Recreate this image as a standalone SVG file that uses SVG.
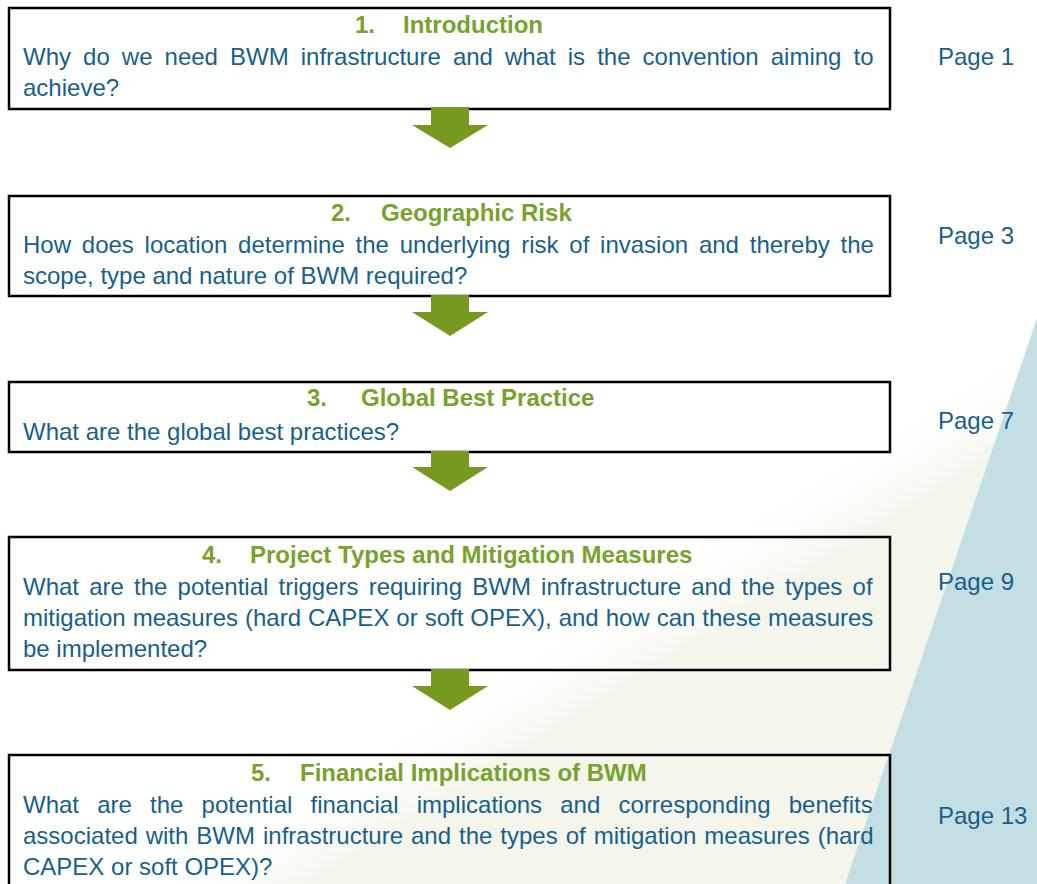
<svg xmlns="http://www.w3.org/2000/svg" width="1037" height="884" viewBox="0 0 1037 884">
  <defs>
    <linearGradient id="wash" gradientUnits="userSpaceOnUse" x1="600" y1="592" x2="650" y2="672">
      <stop offset="0" stop-color="#ffffff" stop-opacity="0"/>
      <stop offset="1" stop-color="#f4f6ec"/>
    </linearGradient>
    <style>
      .box { fill: none; stroke: #000000; stroke-width: 2.5; }
      .title { font-family: "Liberation Sans", Arial, sans-serif; font-size: 24px; font-weight: bold; fill: #77a22b; }
      .body { font-family: "Liberation Sans", Arial, sans-serif; font-size: 24px; fill: #185f8c; }
      .page { font-family: "Liberation Sans", Arial, sans-serif; font-size: 24px; fill: #185f8c; }
      .arrow { fill: #78991f; stroke: none; }
    </style>
  </defs>

  <rect x="0" y="0" width="1037" height="884" fill="#ffffff"/>
  <g id="background">
    <polygon points="1037,318 1037,884 128,884" fill="url(#wash)"/>
    <polygon points="1037,318 1037,884 845,884" fill="#c3dfe3"/>
  </g>

  <g id="node1">
    <rect class="box" x="9" y="8" width="881" height="101"/>
    <text class="title" y="33"><tspan x="355">1.</tspan><tspan x="403">Introduction</tspan></text>
    <text class="body" x="23" y="65" word-spacing="5.4">Why do we need BWM infrastructure and what is the convention aiming to</text>
    <text class="body" x="23" y="96">achieve?</text>
    <text class="page" x="938" y="65">Page 1</text>
  </g>

  <g id="node2">
    <rect class="box" x="9" y="196" width="881" height="100"/>
    <text class="title" y="221"><tspan x="331">2.</tspan><tspan x="381">Geographic Risk</tspan></text>
    <text class="body" x="23" y="253" word-spacing="4.1">How does location determine the underlying risk of invasion and thereby the</text>
    <text class="body" x="23" y="284">scope, type and nature of BWM required?</text>
    <text class="page" x="938" y="244">Page 3</text>
  </g>

  <g id="node3">
    <rect class="box" x="9" y="382" width="881" height="70"/>
    <text class="title" y="406"><tspan x="307">3.</tspan><tspan x="361">Global Best Practice</tspan></text>
    <text class="body" x="23" y="440">What are the global best practices?</text>
    <text class="page" x="938" y="429">Page 7</text>
  </g>

  <g id="node4">
    <rect class="box" x="9" y="537" width="881" height="133"/>
    <text class="title" y="563"><tspan x="202">4.</tspan><tspan x="250">Project Types and Mitigation Measures</tspan></text>
    <text class="body" x="23" y="595" word-spacing="3.5">What are the potential triggers requiring BWM infrastructure and the types of</text>
    <text class="body" x="23" y="626" word-spacing="0.3">mitigation measures (hard CAPEX or soft OPEX), and how can these measures</text>
    <text class="body" x="23" y="657">be implemented?</text>
    <text class="page" x="938" y="590">Page 9</text>
  </g>

  <g id="node5">
    <rect class="box" x="9" y="755" width="881" height="150"/>
    <text class="title" y="781"><tspan x="251">5.</tspan><tspan x="300">Financial Implications of BWM</tspan></text>
    <text class="body" x="23" y="813" word-spacing="11.5">What are the potential financial implications and corresponding benefits</text>
    <text class="body" x="23" y="844" word-spacing="1.3">associated with BWM infrastructure and the types of mitigation measures (hard</text>
    <text class="body" x="23" y="875">CAPEX or soft OPEX)?</text>
    <text class="page" x="938" y="824">Page 13</text>
  </g>

  <g id="connectors">
    <polygon class="arrow" points="431,107 469,107 469,125 488,125 450,148 412,125 431,125"/>
    <polygon class="arrow" points="431,295 469,295 469,312 488,312 450,336 412,312 431,312"/>
    <polygon class="arrow" points="431,451 469,451 469,467 488,467 450,491 412,467 431,467"/>
    <polygon class="arrow" points="431,669 469,669 469,686 488,686 450,710 412,686 431,686"/>
  </g>
</svg>
